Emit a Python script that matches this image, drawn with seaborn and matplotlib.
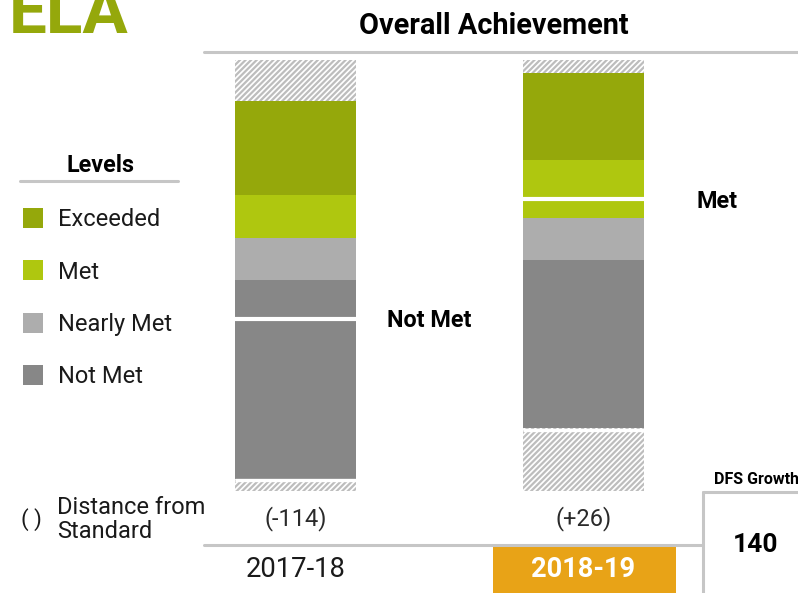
import matplotlib.pyplot as plt
from matplotlib.patches import Rectangle
from matplotlib.lines import Line2D
import seaborn as sns

# scale score bands per year
years = ["2017-18", "2018-19"]
scale_min = [2130, 2201]
nearly_met_cut = [2410, 2438]
met_cut = [2469, 2497]
exceeded_cut = [2529, 2578]
scale_max = [2662, 2701]
student_score = [2355, 2523]
student_level = ["Not Met", "Met"]
axis_range = (2113, 2719)

levels = ["Exceeded", "Met", "Nearly Met", "Not Met"]
level_colors = ["#95A80B", "#AFC70F", "#ADADAD", "#878787"]
highlight_year = "2018-19"

distance = [s - m for s, m in zip(student_score, met_cut)]
dfs_growth = distance[-1] - distance[0]

W, H = 798, 593
GRID = "#C6C6C6"
ORANGE = "#E8A317"
TXT = "#1A1A1A"


def fx(x):
    return x / W


def fy(y):
    return 1 - y / H


sns.set_style("white")
plt.rcParams["font.family"] = ["Roboto", "DejaVu Sans"]
plt.rcParams["hatch.linewidth"] = 1.6

fig = plt.figure(figsize=(W / 100, H / 100), dpi=100)
ax = fig.add_axes([fx(204), fy(491), 499 / W, 431 / H])

bar_w = 0.42
hatch_kw = dict(color="white", edgecolor="#BDBDBD", hatch="//////", linewidth=0,
                saturation=1, width=bar_w, ax=ax)

# bars overlap from 0 upward: tallest first, each band drawn on top
sns.barplot(x=years, y=[axis_range[1]] * len(years), **hatch_kw)
tops = [scale_max, exceeded_cut, met_cut, nearly_met_cut]
for top, col in zip(tops, level_colors):
    sns.barplot(x=years, y=top, color=col, saturation=1, width=bar_w,
                linewidth=0, ax=ax)
sns.barplot(x=years, y=scale_min, **hatch_kw)

for i, (score, lvl, lo) in enumerate(zip(student_score, student_level, scale_min)):
    ax.hlines(score, i - bar_w / 2, i + bar_w / 2, color="white", lw=3)
    ax.hlines(lo - 2, i - bar_w / 2, i + bar_w / 2, color="white", lw=2.4)
    ax.annotate(lvl, (i + 0.465, score), xytext=(0, -1.2),
                textcoords="offset points", ha="center", va="center",
                fontsize=16.8, fontweight="bold", color="black",
                annotation_clip=False)

xt = ax.get_xaxis_transform()
for i, (yr, d) in enumerate(zip(years, distance)):
    ax.text(i, -0.064, f"({d:+d})", transform=xt, ha="center", va="center",
            fontsize=17, color="#2A2A2A", clip_on=False)
    if yr == highlight_year:
        ax.add_patch(Rectangle((i - 0.314, -0.236), 0.635, 0.1135, transform=xt,
                               color=ORANGE, clip_on=False, lw=0))
        ax.text(i, -0.183, yr, transform=xt, ha="center", va="center",
                fontsize=19.6, fontweight="bold", color="white", clip_on=False)
    else:
        ax.text(i, -0.183, yr, transform=xt, ha="center", va="center",
                fontsize=19.8, color=TXT, clip_on=False)

ax.set_xlim(-0.318, 1.415)
ax.set_ylim(*axis_range)
ax.axis("off")

# header
fig.text(fx(9), fy(33), "ELA", fontsize=48.5, fontweight="bold",
         color=level_colors[0], ha="left", va="baseline")
fig.text(fx(494), fy(26), "Overall Achievement", fontsize=20.8,
         fontweight="bold", ha="center", va="center", color="black")

# separator lines
for xs, ys in [((204, 798), (52, 52)), ((204, 703), (545, 545)),
               ((703, 703), (492, 593)), ((703, 798), (492, 492)),
               ((20, 178), (181, 181))]:
    fig.add_artist(Line2D([fx(x) for x in xs], [fy(y) for y in ys],
                          color=GRID, lw=2.2))

# legend
fig.text(fx(100), fy(165), "Levels", fontsize=16.8, fontweight="bold",
         ha="center", va="center", color="black")
for k, (lvl, col) in enumerate(zip(levels, level_colors)):
    yc = 218 + k * 52.3
    fig.add_artist(Rectangle((fx(23), fy(yc + 10)), 20 / W, 20 / H,
                             transform=fig.transFigure, color=col, lw=0))
    fig.text(fx(58), fy(yc + 2), lvl, fontsize=17, ha="left", va="center",
             color=TXT)

fig.text(fx(31), fy(520), "( )", fontsize=16, ha="center", va="center",
         color=TXT)
fig.text(fx(57), fy(507), "Distance from", fontsize=17, ha="left",
         va="center", color=TXT)
fig.text(fx(57), fy(532), "Standard", fontsize=17, ha="left",
         va="center", color=TXT)

fig.text(fx(757), fy(479), "DFS Growth", fontsize=11.5, fontweight="bold",
         ha="center", va="center", color="black")
fig.text(fx(756), fy(545), f"{dfs_growth}", fontsize=19, fontweight="bold",
         ha="center", va="center", color="black")

fig.savefig("out.png", dpi=100)
